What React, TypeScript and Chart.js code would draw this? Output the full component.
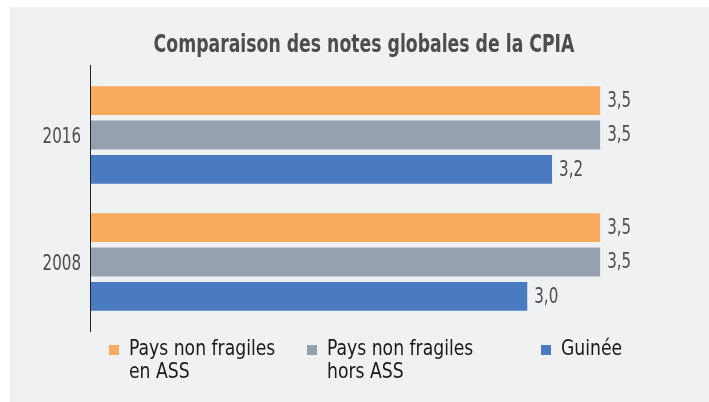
import { useEffect, useRef } from "react";
import { Chart, registerables } from "chart.js";

Chart.register(...registerables);

const chartTitle = "Comparaison des notes globales de la CPIA";
const categories = ["2016", "2008"];
const seriesNames = [
  ["Pays non fragiles", "en ASS"],
  ["Pays non fragiles", "hors ASS"],
  ["Guinée"],
];
const nonFragilesASS = [3.5, 3.5];
const nonFragilesHorsASS = [3.5, 3.5];
const guinee = [3.17, 3.0];
const seriesColors = ["#F9AA5E", "#95A1AE", "#4A7BC0"];

const NARROW = "'Liberation Sans Narrow', 'Arial Narrow', 'DejaVu Sans Condensed', sans-serif";

const fmt = (v: number) => v.toFixed(1).replace(".", ",");

function squeezedText(ctx: any, text: string, x: number, y: number, sx: number) {
  ctx.save();
  ctx.translate(x, y);
  ctx.scale(sx, 1);
  ctx.fillText(text, 0, 0);
  ctx.restore();
}

const decor = {
  id: "decor",
  beforeDraw(chart: any) {
    const { ctx, width, height } = chart;
    ctx.save();
    ctx.fillStyle = "#FFFFFF";
    ctx.fillRect(0, 0, width, height);
    ctx.fillStyle = "#F0F1F3";
    ctx.fillRect(10, 7, width - 10, height - 7);
    ctx.restore();
  },
  afterDatasetsDraw(chart: any) {
    const { ctx, chartArea } = chart;
    ctx.save();
    // value labels
    ctx.font = `21px ${NARROW}`;
    ctx.fillStyle = "#4D4D4D";
    ctx.textAlign = "left";
    ctx.textBaseline = "middle";
    chart.data.datasets.forEach((ds: any, i: number) => {
      const meta = chart.getDatasetMeta(i);
      meta.data.forEach((bar: any, j: number) => {
        squeezedText(ctx, fmt(ds.data[j]), bar.x + 7, bar.y + 1, 0.8);
      });
    });
    // category labels
    const yScale = chart.scales.y;
    ctx.textAlign = "right";
    chart.data.labels.forEach((lab: string, i: number) => {
      squeezedText(ctx, lab, chartArea.left - 9, yScale.getPixelForTick(i) + 3, 0.8);
    });
    // vertical axis line
    ctx.strokeStyle = "#222222";
    ctx.lineWidth = 1;
    ctx.beginPath();
    ctx.moveTo(Math.round(chartArea.left) + 0.5, chartArea.top - 6.5);
    ctx.lineTo(Math.round(chartArea.left) + 0.5, chartArea.bottom + 6.5);
    ctx.stroke();
    ctx.restore();
  },
  afterDraw(chart: any) {
    const { ctx } = chart;
    ctx.save();
    // title
    ctx.font = `bold 24px ${NARROW}`;
    ctx.fillStyle = "#4D4D4D";
    ctx.textAlign = "center";
    ctx.textBaseline = "alphabetic";
    squeezedText(ctx, chartTitle, 364, 52, 0.8);
    // legend
    const xs = [109, 307, 541];
    ctx.font = `22px ${NARROW}`;
    ctx.textAlign = "left";
    chart.data.datasets.forEach((ds: any, i: number) => {
      const x = xs[i];
      ctx.fillStyle = ds.backgroundColor;
      ctx.fillRect(x, 345, 10, 10);
      ctx.fillStyle = "#1A1A1A";
      const lines: string[] = seriesNames[i];
      lines.forEach((line, k) => {
        squeezedText(ctx, line, x + 20, 355 + k * 23, 0.87);
      });
    });
    ctx.restore();
  },
};

export default function App() {
  const ref = useRef<HTMLCanvasElement | null>(null);

  useEffect(() => {
    if (!ref.current) return;
    const values = [nonFragilesASS, nonFragilesHorsASS, guinee];
    const chart = new Chart(ref.current, {
      type: "bar",
      data: {
        labels: categories,
        datasets: values.map((data, i) => ({
          label: seriesNames[i].join(" "),
          data,
          backgroundColor: seriesColors[i],
          borderWidth: 0,
          categoryPercentage: 0.812,
          barPercentage: 0.84,
        })),
      },
      options: {
        indexAxis: "y",
        responsive: false,
        animation: false,
        layout: { padding: { left: 0, top: 71.5, bottom: 76.5, right: 36 } },
        plugins: {
          legend: { display: false },
          title: { display: false },
          tooltip: { enabled: false },
        },
        scales: {
          x: { display: false, min: 0, max: 4 },
          y: {
            afterFit: (scale: any) => {
              scale.width = 90;
            },
            grid: { display: false, drawTicks: false },
            border: { display: false },
            ticks: { display: false },
          },
        },
      },
      plugins: [decor],
    });
    return () => chart.destroy();
  }, []);

  return (
    <div style={{ position: "fixed", left: 0, top: 0, width: 709, height: 402 }}>
      <canvas ref={ref} width={709} height={402} style={{ display: "block" }} />
    </div>
  );
}
